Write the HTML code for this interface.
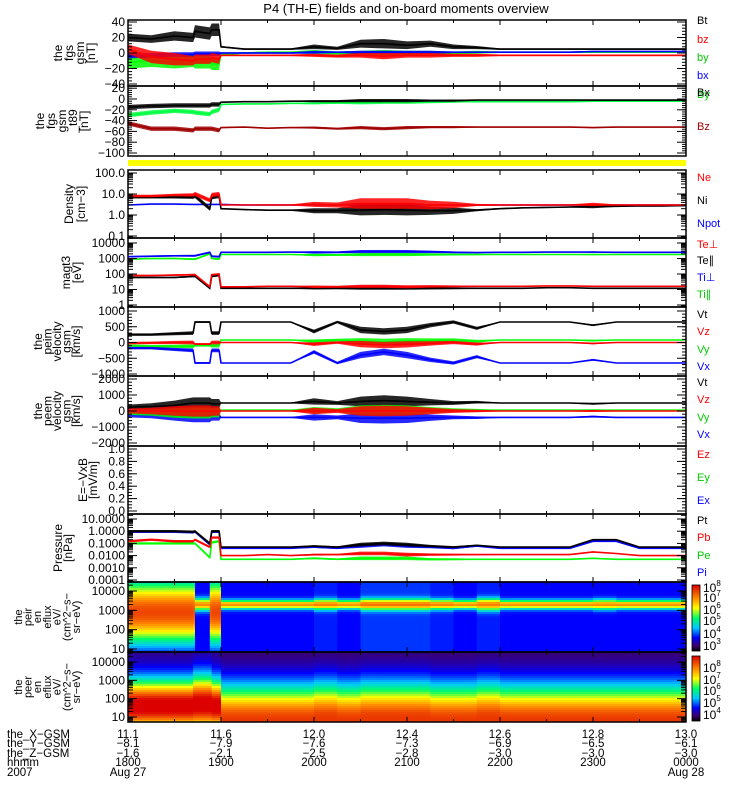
<!DOCTYPE html>
<html><head><meta charset="utf-8">
<style>
html,body{margin:0;padding:0;background:#fff;}
svg{display:block;font-family:"Liberation Sans",sans-serif;}
</style></head>
<body>
<svg id="chart" width="750" height="800" viewBox="0 0 750 800" xmlns="http://www.w3.org/2000/svg">
<rect x="0" y="0" width="750" height="800" fill="#fff"/>
<text x="406" y="13" font-size="13" text-anchor="middle">P4 (TH-E) fields and on-board moments overview</text>
<defs>
<linearGradient id="cbar" x1="0" y1="1" x2="0" y2="0">
<stop offset="0" stop-color="#000"/><stop offset="0.08" stop-color="#3c006e"/><stop offset="0.2" stop-color="#0000ff"/><stop offset="0.35" stop-color="#00c8ff"/><stop offset="0.5" stop-color="#00ff64"/><stop offset="0.65" stop-color="#ffff00"/><stop offset="0.8" stop-color="#ff8c00"/><stop offset="1" stop-color="#dc0000"/>
</linearGradient>
</defs>
<g id="layer"></g>
</svg>
<script>
// ---- data ----
const hours=[0,0.25,0.5,0.7,0.72,0.88,0.9,0.98,1.0,1.25,1.5,1.75,2.0,2.25,2.5,2.75,3.0,3.25,3.5,3.75,4.0,4.25,4.5,4.75,5.0,5.25,5.5,5.75,6.0];
const hourTickLabels=['1800','1900','2000','2100','2200','2300','0000'];
const xGsmLabels=['11.1','11.6','12.0','12.4','12.6','12.8','13.0'];
const yGsmLabels=['−8.1','−7.9','−7.6','−7.3','−6.9','−6.5','−6.1'];
const zGsmLabels=['−1.6','−2.1','−2.5','−2.8','−3.0','−3.0','−3.0'];

const fgsBt=[20,18,22,20,28,25,30,30,8,5,5,5,8,6,12,12,10,12,8,7,5,5,5,5,5,5,5,5,5];
const fgsBtSpread=[5,5,6,6,8,8,8,8,1,1,1,1,3,2,5,6,5,4,3,2,1,1,1,1,1,1,1,1,1];
const fgsBz=[5,-5,-8,-10,-8,-8,-6,-8,-3,-3,-3,-3,-3,-4,-3,-4,-3,-3,-3,-3,-3,-3,-3,-3,-3,-3,-3,-3,-3];
const fgsBzSpread=[6,8,8,6,6,6,6,6,1,1,1,1,2,2,3,4,3,3,2,2,1,1,1,1,1,1,1,1,1];
const fgsBy=[-12,-10,-12,-10,-12,-12,-14,-14,-2,0,1,1,1,0,0,0,0,0,0,1,1,1,1,1,1,1,1,1,1];
const fgsBySpread=[8,8,8,8,8,8,8,8,1,1,1,1,3,2,3,4,3,3,2,2,1,1,1,1,1,1,1,1,1];
const fgsBx=[-4,-3,-2,-2,-1,-1,-1,-1,0,0,0,0,1,1,1,1,1,1,1,1,1,1,1,1,2,2,2,2,2];
const fgsBxSpread=[3,3,3,3,3,3,3,3,1,1,1,1,2,1,2,2,2,2,1,1,1,1,1,1,1,1,1,1,1];

const t89Bx=[-15,-13,-12,-12,-12,-12,-10,-10,-6,-5,-5,-4,-4,-4,-3,-3,-3,-3,-3,-2,-2,-2,-2,-2,-2,-2,-2,-2,-2];
const t89By=[-30,-25,-22,-24,-25,-28,-24,-20,-10,-9,-9,-8,-8,-7,-7,-6,-6,-6,-5,-5,-5,-5,-5,-5,-4,-4,-4,-4,-4];
const t89Bz=[-45,-55,-55,-58,-55,-55,-55,-58,-53,-52,-54,-53,-53,-55,-53,-55,-53,-52,-52,-52,-52,-52,-52,-52,-53,-52,-52,-52,-52];
const t89Spread=[4,4,4,4,4,4,4,4,1,1,1,1,2,2,3,3,3,2,2,1,1,1,1,1,1,1,1,1,1];

const denNe=[8,8,9,9,10,5,9,10,3,3,3,3,3.2,3,3.5,3.5,3.5,3,3,3,3,3,3,3,3.2,3,3,3,3];
const denNi=[7,7,7,7,8,2,7,8,2,1.8,1.7,1.7,1.6,1.6,1.7,1.8,1.7,1.6,1.6,1.7,2,2.2,2.3,2.4,2.5,2.6,2.7,2.7,2.8];
const denNpot=[3,3.3,3.3,3.2,3.2,3.2,3.2,3.2,3.2,3,3,3,3,3,3,3,3,3,3,3,3,3,3,3,3,3,3,3,3];
const denSpread=[0.06,0.06,0.06,0.08,0.1,0.1,0.1,0.1,0.02,0.02,0.03,0.03,0.12,0.12,0.25,0.25,0.25,0.2,0.15,0.05,0.03,0.03,0.03,0.03,0.08,0.03,0.03,0.03,0.03];

const momTePerp=[80,80,85,90,90,15,90,100,15,15,16,16,15,15,16,16,15,16,16,16,16,16,17,17,16,16,16,16,16];
const momTePar=[60,60,60,70,70,12,70,80,12,12,12,12,12,12,12,12,12,12,12,12,12,12,13,13,12,12,12,12,12];
const momTiPerp=[1300,1400,1500,1500,1500,2500,1400,1300,2500,2500,2500,2600,2500,2500,2800,2800,2800,2700,2500,2400,2500,2500,2600,2600,2600,2500,2500,2500,2500];
const momTiPar=[900,1000,1000,900,900,2000,1000,900,1800,1800,1800,1800,1700,1700,1800,1800,1800,1800,1800,1800,1800,1800,1800,1800,1800,1800,1800,1800,1800];
const momSpread=[0.05,0.05,0.05,0.06,0.06,0.06,0.06,0.06,0.02,0.02,0.02,0.02,0.08,0.06,0.1,0.1,0.1,0.08,0.06,0.04,0.02,0.02,0.02,0.02,0.04,0.02,0.02,0.02,0.02];

const peimVt=[250,250,280,300,650,650,300,300,650,650,650,650,350,650,400,350,400,550,650,450,650,650,650,650,550,650,650,650,650];
const peimVz=[-20,-10,0,0,-50,-50,0,0,0,0,0,0,-50,0,-50,-80,-60,-30,0,-50,0,0,0,0,-30,0,0,0,0];
const peimVy=[-100,-120,-120,-120,-100,-100,-100,-100,80,80,80,80,40,80,40,20,40,60,80,40,80,80,80,80,60,80,80,80,80];
const peimVx=[-180,-180,-220,-250,-650,-650,-250,-250,-650,-650,-650,-650,-300,-650,-400,-300,-400,-550,-650,-450,-650,-650,-650,-650,-550,-650,-650,-650,-650];
const peimSpread=[40,40,50,60,30,30,60,60,10,10,10,10,60,40,100,100,100,70,50,50,10,10,10,10,30,10,10,10,10];

const peemVt=[250,280,350,500,500,500,450,450,500,500,500,500,600,500,600,650,600,550,500,550,500,500,500,500,450,500,500,500,500];
const peemVz=[0,0,0,0,0,0,0,0,0,0,0,0,0,0,0,0,0,0,0,0,0,0,0,0,0,0,0,0,0];
const peemVy=[-100,-100,-120,-120,-120,-120,-100,-100,50,50,50,50,50,50,50,50,50,50,50,50,50,50,50,50,50,50,50,50,50];
const peemVx=[-250,-250,-300,-350,-350,-350,-300,-300,-400,-400,-400,-400,-400,-400,-450,-450,-450,-420,-400,-420,-400,-400,-400,-400,-350,-400,-400,-400,-400];
const peemSpread=[150,200,300,350,350,350,300,300,30,30,30,30,200,120,300,330,300,200,120,80,30,30,30,30,60,30,30,30,30];

const presPt=[1,1,1,0.9,1,0.1,1,1,0.05,0.05,0.05,0.05,0.06,0.05,0.08,0.1,0.08,0.06,0.05,0.07,0.05,0.05,0.05,0.05,0.2,0.2,0.05,0.05,0.05];
const presPi=[0.9,0.9,0.9,0.8,0.9,0.08,0.9,0.9,0.04,0.04,0.04,0.04,0.05,0.04,0.06,0.08,0.06,0.05,0.04,0.06,0.04,0.04,0.04,0.04,0.15,0.15,0.04,0.04,0.04];
const presPb=[0.15,0.2,0.15,0.15,0.2,0.05,0.3,0.3,0.01,0.01,0.012,0.01,0.012,0.012,0.015,0.015,0.012,0.012,0.012,0.012,0.012,0.012,0.012,0.012,0.02,0.015,0.01,0.01,0.01];
const presPe=[0.1,0.1,0.1,0.1,0.1,0.007,0.12,0.15,0.005,0.005,0.005,0.005,0.006,0.005,0.006,0.006,0.006,0.005,0.005,0.005,0.005,0.005,0.005,0.005,0.006,0.005,0.005,0.005,0.005];
const presSpread=[0.1,0.1,0.1,0.1,0.1,0.1,0.1,0.1,0.03,0.03,0.03,0.03,0.08,0.06,0.15,0.15,0.15,0.1,0.08,0.05,0.03,0.03,0.03,0.03,0.05,0.03,0.03,0.03,0.03];

const ionPeak=[2.9,2.9,2.9,2.9,3.3,2.9,2.9,2.9,3.3,3.3,3.3,3.3,3.3,3.3,3.3,3.3,3.3,3.3,3.3,3.3,3.3,3.3,3.3,3.3,3.3,3.3,3.3,3.3,3.3];
const ionWidth=[1.8,1.8,1.8,1.8,0.3,1.8,1.8,1.8,0.22,0.22,0.22,0.22,0.26,0.22,0.28,0.28,0.28,0.25,0.22,0.3,0.22,0.22,0.22,0.22,0.25,0.22,0.22,0.22,0.22];
const ionLevel=[0.9,0.9,0.9,0.88,0.6,0.88,0.9,0.9,0.6,0.6,0.6,0.6,0.6,0.6,0.6,0.6,0.6,0.6,0.6,0.6,0.6,0.6,0.6,0.6,0.6,0.6,0.6,0.6,0.6];
const ionBg=[0,0,0,0,0.2,0,0,0,0.2,0.2,0.2,0.2,0.22,0.2,0.24,0.24,0.24,0.22,0.2,0.22,0.2,0.2,0.2,0.2,0.2,0.2,0.2,0.2,0.2];

const elePeak=[1.6,1.6,1.6,1.7,1.7,1.7,1.6,1.6,0.8,0.8,0.8,0.8,0.9,0.8,0.9,0.9,0.9,0.8,0.8,0.9,0.8,0.8,0.8,0.8,0.8,0.8,0.8,0.8,0.8];
const eleWidth=[1.4,1.4,1.4,1.5,1.5,1.5,1.4,1.4,1.9,1.9,1.9,1.9,1.9,1.9,1.9,1.9,1.9,1.9,1.9,1.9,1.9,1.9,1.9,1.9,1.9,1.9,1.9,1.9,1.9];
const eleLevel=[0.95,0.95,0.95,0.95,0.95,0.95,0.95,0.95,0.85,0.85,0.85,0.85,0.85,0.85,0.85,0.85,0.85,0.85,0.85,0.85,0.85,0.85,0.85,0.85,0.85,0.85,0.85,0.85,0.85];
const eleBg=[0.1,0.1,0.1,0.1,0.1,0.1,0.1,0.1,0.07,0.07,0.07,0.07,0.07,0.07,0.07,0.07,0.07,0.07,0.07,0.07,0.07,0.07,0.07,0.07,0.07,0.07,0.07,0.07,0.07];

// ---- layout ----
const X0=128, X1=686;
const NS='http://www.w3.org/2000/svg';
const layer=document.getElementById('layer');
function mk(tag,attrs,parent){const e=document.createElementNS(NS,tag);for(const k in attrs)e.setAttribute(k,attrs[k]);(parent||layer).appendChild(e);return e;}
function xOf(h){return X0+h*(X1-X0)/6;}

const panels={
 fgs:{top:20,bot:86,v1:-40,y1:84,v2:40,y2:22,log:false,ticks:[40,20,0,-20,-40],minor:5,title:['the','fgs','gsm','[nT]'],tEnd:95,tSp:11},
 t89:{top:86,bot:156,v1:-100,y1:153,v2:0,y2:99,log:false,ticks:[20,0,-20,-40,-60,-80,-100],minor:5,title:['the','fgs','gsm','_t89','[nT]'],tEnd:88,tSp:11},
 den:{top:170,bot:238,v1:-1,y1:236,v2:2,y2:173,log:true,ticks:[100,10,1,0.1],tl:['100.0','10.0','1.0','0.1'],title:['Density','[cm−3]'],tEnd:85,tSp:12},
 mom:{top:238,bot:307,v1:0,y1:305,v2:4,y2:243,log:true,ticks:[10000,1000,100,10,1],title:['magt3','[eV]'],tEnd:81,tSp:11},
 peim:{top:307,bot:376,v1:-1000,y1:374,v2:1000,y2:311,log:false,ticks:[1000,500,0,-500,-1000],minor:5,title:['the','peim','velocity','gsm','[km/s]'],tEnd:80,tSp:9.5},
 peem:{top:376,bot:446,v1:-2000,y1:443,v2:2000,y2:379,log:false,ticks:[2000,1000,0,-1000,-2000],minor:5,title:['the','peem','velocity','gsm','[km/s]'],tEnd:80,tSp:9.5},
 efld:{top:446,bot:514,v1:0,y1:511,v2:1,y2:449,log:false,ticks:[1,0.8,0.6,0.4,0.2,0],tl:['1.0','0.8','0.6','0.4','0.2','0.0'],minor:4,title:['E=−VxB','[mV/m]'],tEnd:97,tSp:10},
 pres:{top:514,bot:582,v1:-4,y1:580,v2:1,y2:519,log:true,ticks:[10,1,0.1,0.01,0.001,0.0001],tl:['10.0000','1.0000','0.1000','0.0100','0.0010','0.0001'],title:['Pressure','[nPa]'],tEnd:72,tSp:10},
 peir:{top:582,bot:652,v1:1,y1:649,v2:4,y2:591,log:true,ticks:[10000,1000,100,10],spec:true,title:['the','peir','en','eflux','eV/','(cm^2−s−','sr−eV)'],tEnd:80,tSp:9.7},
 peer:{top:652,bot:722,v1:1,y1:717,v2:4,y2:662,log:true,ticks:[10000,1000,100,10],spec:true,title:['the','peer','en','eflux','eV/','(cm^2−s−','sr−eV)'],tEnd:80,tSp:9.7}
};
function yOf(p,v){const t=p.log?Math.log10(v):v;return p.y1+(t-p.v1)*(p.y2-p.y1)/(p.v2-p.v1);}
function yOfT(p,t){return p.y1+(t-p.v1)*(p.y2-p.y1)/(p.v2-p.v1);}

const defs=document.querySelector('defs');
for(const k in panels){const p=panels[k];const c=mk('clipPath',{id:'clip-'+k},defs);mk('rect',{x:X0,y:p.top,width:X1-X0,height:p.bot-p.top},c);}

function drawSeries(pk,vals,spread,color,name){
  const p=panels[pk];
  const g=mk('g',{'clip-path':'url(#clip-'+pk+')'});
  
  
  if(spread){
    let up=[],lo=[];
    for(let i=0;i<hours.length;i++){
      const x=xOf(hours[i]);
      let a,b;
      if(p.log){const t=Math.log10(vals[i]);a=yOfT(p,t+spread[i]);b=yOfT(p,t-spread[i]);}
      else{a=yOf(p,vals[i]+spread[i]);b=yOf(p,vals[i]-spread[i]);}
      up.push(x.toFixed(1)+','+a.toFixed(1));lo.unshift(x.toFixed(1)+','+b.toFixed(1));
    }
    const band=mk('polygon',{points:up.concat(lo).join(' '),fill:color,'fill-opacity':'0.85'},g);
    
    
  }
  const pts=hours.map((h,i)=>xOf(h).toFixed(1)+','+yOf(p,vals[i]).toFixed(1)).join(' ');
  const ln=mk('polyline',{points:pts,fill:'none',stroke:color,'stroke-width':'1.6'},g);
  
  
}

const jetStops=[[0,[0,0,0]],[0.08,[60,0,110]],[0.2,[0,0,255]],[0.35,[0,200,255]],[0.5,[0,255,100]],[0.65,[255,255,0]],[0.8,[255,140,0]],[1,[220,0,0]]];
function jet(v){v=Math.max(0,Math.min(1,v));for(let i=1;i<jetStops.length;i++){if(v<=jetStops[i][0]){const a=jetStops[i-1],b=jetStops[i];const f=(v-a[0])/(b[0]-a[0]);const c=a[1].map((x,j)=>Math.round(x+(b[1][j]-x)*f));return 'rgb('+c.join(',')+')';}}return 'rgb(220,0,0)';}
function drawSpec(pk,peak,width,level,bg,name){
  const p=panels[pk];
  const g=mk('g',{'clip-path':'url(#clip-'+pk+')'});
  
  
  const bgR=mk('rect',{x:X0,y:p.top,width:X1-X0,height:p.bot-p.top,fill:'#2a0050'},g);
  
  
  for(let i=0;i<hours.length-1;i++){
    const xa=xOf(hours[i]),xb=xOf(hours[i+1]);
    for(let y=p.top;y<p.bot;y+=2){
      const t=p.v1+(y+1-p.y1)*(p.v2-p.v1)/(p.y2-p.y1);
      const d=(t-peak[i])/width[i];
      const v=level[i]*Math.exp(-d*d)+bg[i];
      const r=mk('rect',{x:xa.toFixed(1),y:y,width:(xb-xa+0.6).toFixed(1),height:2.2,fill:jet(v)},g);
      
      
    }
  }
}

drawSpec('peir',ionPeak,ionWidth,ionLevel,ionBg,'ion-spectrogram');
drawSpec('peer',elePeak,eleWidth,eleLevel,eleBg,'electron-spectrogram');

drawSeries('fgs',fgsBt,fgsBtSpread,'#000','series-fgs-bt');
drawSeries('fgs',fgsBy,fgsBySpread,'#00ff00','series-fgs-by');
drawSeries('fgs',fgsBx,fgsBxSpread,'#0000ff','series-fgs-bx');
drawSeries('fgs',fgsBz,fgsBzSpread,'#ff0000','series-fgs-bz');
drawSeries('t89',t89By,t89Spread,'#00ff40','series-t89-by');
drawSeries('t89',t89Bx,t89Spread,'#000','series-t89-bx');
drawSeries('t89',t89Bz,t89Spread,'#a00000','series-t89-bz');
drawSeries('den',denNpot,null,'#0000ff','series-npot');
drawSeries('den',denNi,denSpread,'#000','series-ni');
drawSeries('den',denNe,denSpread,'#ff0000','series-ne');
drawSeries('mom',momTiPar,momSpread,'#00ff00','series-ti-par');
drawSeries('mom',momTiPerp,momSpread,'#0000ff','series-ti-perp');
drawSeries('mom',momTePar,momSpread,'#000','series-te-par');
drawSeries('mom',momTePerp,momSpread,'#ff0000','series-te-perp');
drawSeries('peim',peimVt,peimSpread,'#000','series-peim-vt');
drawSeries('peim',peimVy,peimSpread,'#00ff00','series-peim-vy');
drawSeries('peim',peimVx,peimSpread,'#0000ff','series-peim-vx');
drawSeries('peim',peimVz,peimSpread,'#ff0000','series-peim-vz');
drawSeries('peem',peemVt,peemSpread,'#000','series-peem-vt');
drawSeries('peem',peemVx,peemSpread,'#0000ff','series-peem-vx');
drawSeries('peem',peemVy,peemSpread,'#00ff00','series-peem-vy');
drawSeries('peem',peemVz,peemSpread,'#ff0000','series-peem-vz');
drawSeries('pres',presPi,presSpread,'#0000ff','series-pi');
drawSeries('pres',presPt,presSpread,'#000','series-pt');
drawSeries('pres',presPe,presSpread,'#00ff00','series-pe');
drawSeries('pres',presPb,presSpread,'#ff0000','series-pb');

const yb=mk('rect',{x:X0,y:160,width:X1-X0,height:6,fill:'#ffff00'});



for(const k in panels){
  const p=panels[k];
  const g=mk('g',{stroke:'#000','stroke-width':'1'});
  
  
  const fr=mk('rect',{x:X0,y:p.top,width:X1-X0,height:p.bot-p.top,fill:'none','stroke-width':'1.5'},g);
  
  
  for(let h=0;h<=6;h++){const x=xOf(h);mk('line',{x1:x,x2:x,y1:p.top,y2:p.top+5},g);mk('line',{x1:x,x2:x,y1:p.bot,y2:p.bot-5},g);}
  for(let h=0.5;h<6;h+=1){const x=xOf(h);mk('line',{x1:x,x2:x,y1:p.top,y2:p.top+3},g);mk('line',{x1:x,x2:x,y1:p.bot,y2:p.bot-3},g);}
  p.ticks.forEach((v,i)=>{
    const y=yOf(p,v);
    mk('line',{x1:X0,x2:X0+9,y1:y,y2:y},g);mk('line',{x1:X1,x2:X1-9,y1:y,y2:y},g);
    const lab=p.tl?p.tl[i]:String(v).replace('-','−');
    const t=mk('text',{x:X0-3,y:(y+4).toFixed(1),'font-size':'12','text-anchor':'end',stroke:'none',fill:'#000'});
    t.textContent=lab;
    
    
  });
  if(p.log){
    for(let d=Math.floor(p.v1)-1;d<=Math.ceil(p.v2)+1;d++){for(let m=2;m<10;m++){const y=yOfT(p,d+Math.log10(m));if(y>p.top&&y<p.bot){mk('line',{x1:X0,x2:X0+5,y1:y,y2:y},g);mk('line',{x1:X1,x2:X1-5,y1:y,y2:y},g);}}}
  } else {
    const st=(p.ticks[0]-p.ticks[1])/p.minor;
    for(let v=p.ticks[p.ticks.length-1];v<=p.ticks[0]+1e-9;v+=st){const y=yOf(p,v);mk('line',{x1:X0,x2:X0+4,y1:y,y2:y},g);mk('line',{x1:X1,x2:X1-4,y1:y,y2:y},g);}
  }
  const cy=(p.top+p.bot)/2;
  const n=p.title.length;
  const tg=mk('g',{});
  
  
  const xStart=p.tEnd-(n-1)*p.tSp;
  p.title.forEach((s,i)=>{const x=xStart+i*p.tSp;const t=mk('text',{x:x,y:cy,'font-size':p.spec?'11':'12','text-anchor':'middle',transform:'rotate(-90 '+x+' '+cy+')'},tg);t.textContent=s;});
}

const legend=[['Bt',24,'#000'],['bz',43,'#f00'],['by',61,'#0c0'],['bx',79,'#00f'],['By',98,'#0c0'],['Bx',96,'#000'],['Bz',130,'#a00000'],
['Ne',181,'#f00'],['Ni',204,'#000'],['Npot',227,'#00f'],['Te⊥',248,'#f00'],['Te∥',264,'#000'],['Ti⊥',281,'#00f'],['Ti∥',298,'#0c0'],
['Vt',318,'#000'],['Vz',335,'#f00'],['Vy',353,'#0c0'],['Vx',370,'#00f'],['Vt',386,'#000'],['Vz',403,'#f00'],['Vy',421,'#0c0'],['Vx',438,'#00f'],
['Ez',458,'#f00'],['Ey',481,'#0c0'],['Ex',504,'#00f'],['Pt',524,'#000'],['Pb',541,'#f00'],['Pe',559,'#0c0'],['Pi',576,'#00f']];
legend.forEach(l=>{const t=mk('text',{x:697,y:l[1],'font-size':'11',fill:l[2]});t.textContent=l[0];

});

[['peir',585,651,[8,7,6,5,4,3],[589,599,611,622,635,647]],['peer',656,721,[8,7,6,5,4],[669,681,692,704,716]]].forEach(c=>{
  const r=mk('rect',{x:692,y:c[1],width:8,height:c[2]-c[1],fill:'url(#cbar)',stroke:'#000','stroke-width':'0.8'});
  
  
  c[3].forEach((e,i)=>{const t=mk('text',{x:703,y:c[4][i]+3,'font-size':'12'});t.textContent='10';const s=document.createElementNS(NS,'tspan');s.setAttribute('dy','-6');s.setAttribute('font-size','8');s.textContent=String(e);t.appendChild(s);
  
  });
});

const rows=[['the_X−GSM',xGsmLabels,738],['the_Y−GSM',yGsmLabels,747],['the_Z−GSM',zGsmLabels,757],['hhmm',hourTickLabels,766]];
rows.forEach(r=>{
  const t=mk('text',{x:7,y:r[2],'font-size':'11.5'});t.textContent=r[0];
  
  
  r[1].forEach((s,i)=>{const v=mk('text',{x:xOf(i),y:r[2],'font-size':'11.5','text-anchor':'middle'});v.textContent=s;
  
  });
});
[['2007',7,'start'],['Aug 27',xOf(0),'middle'],['Aug 28',xOf(6),'middle']].forEach(d=>{const t=mk('text',{x:d[1],y:776,'font-size':'11.5','text-anchor':d[2]});t.textContent=d[0];

});
</script>
</body></html>
